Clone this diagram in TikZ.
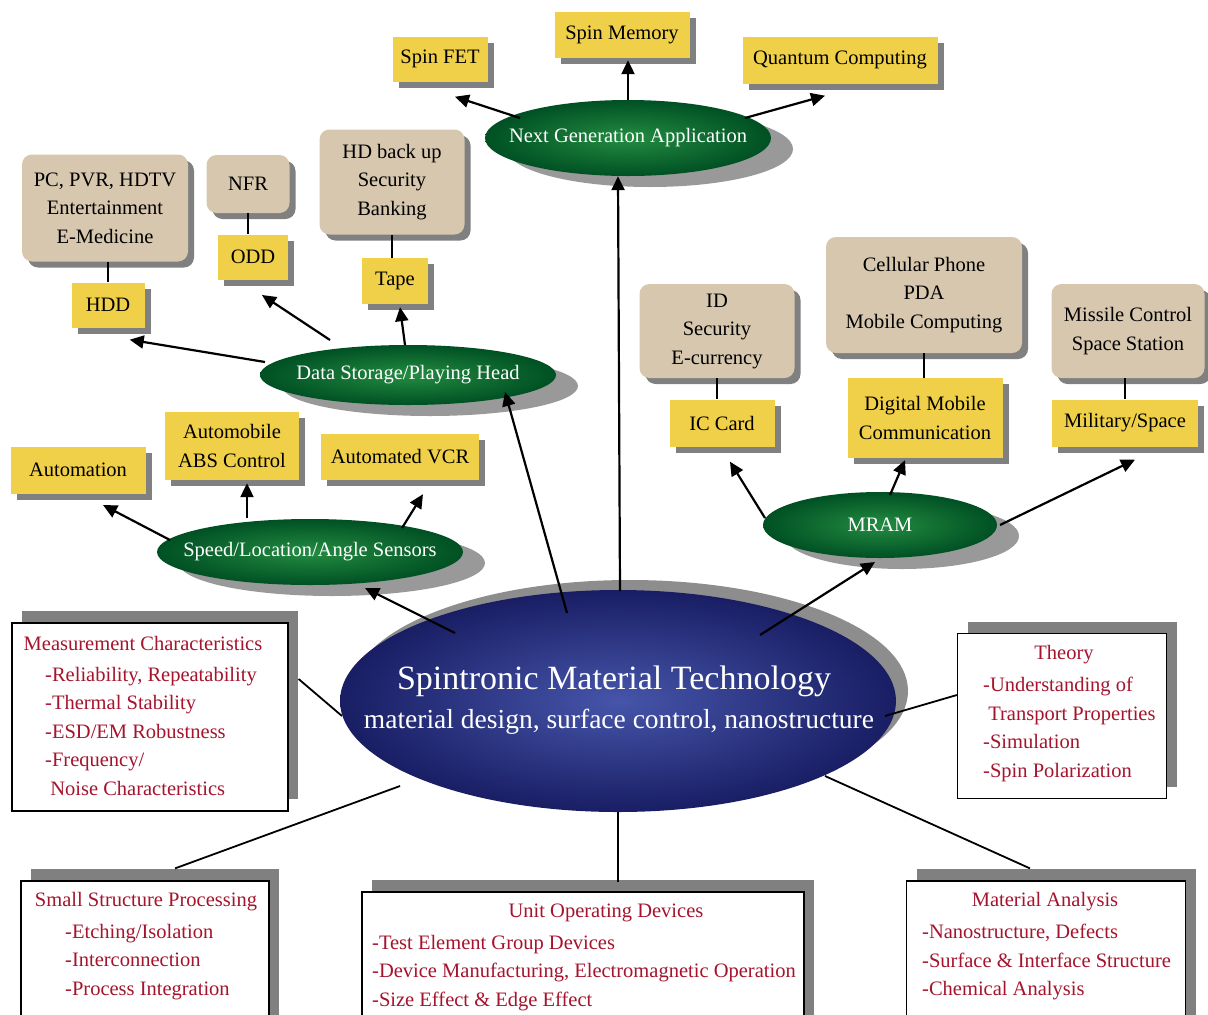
\documentclass[tikz,border=0pt]{standalone}
\usepackage{fontspec}
\setmainfont{Liberation Serif}
\usetikzlibrary{shapes.geometric,shadows,arrows.meta,calc}
\definecolor{yellow1}{RGB}{240,208,72}
\definecolor{tan1}{RGB}{214,199,174}
\definecolor{red1}{RGB}{165,20,45}
\definecolor{green1}{RGB}{35,140,65}
\definecolor{green2}{RGB}{0,80,35}
\definecolor{blue1}{RGB}{70,85,170}
\definecolor{blue2}{RGB}{25,30,100}
\definecolor{gray1}{RGB}{128,128,128}
\newcommand{\lblfont}{\fontsize{20.5}{28.5}\selectfont}
\tikzset{
  appbox/.style={rectangle,fill=yellow1,inner sep=0pt,align=center,font=\lblfont,
    drop shadow={shadow xshift=6pt,shadow yshift=-6pt,fill=gray1,opacity=1}},
  usebox/.style={rectangle,rounded corners=10pt,fill=tan1,inner sep=0pt,align=center,font=\lblfont,
    drop shadow={shadow xshift=6pt,shadow yshift=-6pt,fill=gray1,opacity=1}},
  fieldell/.style={ellipse,inner xsep=-40pt,inner ysep=-15pt,inner color=green1,outer color=green2,text=white,font=\lblfont,
    drop shadow={shadow xshift=22pt,shadow yshift=-11pt,fill=gray1!80,opacity=1}},
  infobox/.style={rectangle,draw=black,line width=1.2pt,fill=white,
    drop shadow={shadow xshift=10pt,shadow yshift=12pt,fill=gray1,opacity=1}},
  infotitle/.style={text=red1,font=\lblfont,inner sep=0pt},
  infolist/.style={text=red1,font=\lblfont,align=left,inner sep=0pt,anchor=north west},
  arr/.style={line width=2.2pt,-{Triangle[length=14pt,width=13pt]}},
  link/.style={line width=1.8pt}
}
\begin{document}
\begin{tikzpicture}[x=1pt,y=-1pt]
\useasboundingbox (0,0) rectangle (1208,1015);
\clip (0,0) rectangle (1208,1015);
%
% core
\node[ellipse,inner sep=0pt,minimum width=556pt,minimum height=222pt,inner color=blue1,outer color=blue2,
  drop shadow={shadow xshift=12pt,shadow yshift=10pt,fill=gray1!90,opacity=1}] (core) at (618,701) {};
\node[text=white,inner sep=0pt,font=\fontsize{34}{40}\selectfont] (coret1) at (614,681) {Spintronic Material Technology};
\node[text=white,inner sep=0pt,font=\fontsize{27.5}{30}\selectfont] (coret2) at (619,722) {material design, surface control, nanostructure};
%
% next generation
\node[fieldell,minimum width=286pt,minimum height=76pt] (nga) at (628,138) {Next Generation Application};
\node[appbox,minimum width=95pt,minimum height=45pt] (fet) at (440,59) {Spin FET};
\node[appbox,minimum width=135pt,minimum height=46pt] (smem) at (622,35) {Spin Memory};
\node[appbox,minimum width=195pt,minimum height=47pt] (qc) at (840,60) {Quantum Computing};
%
% data storage
\node[fieldell,minimum width=296pt,minimum height=60pt] (dsh) at (408,375) {Data Storage/Playing Head};
\node[usebox,minimum width=166pt,minimum height=107pt] (pc) at (105,208) {PC, PVR, HDTV\\Entertainment\\E-Medicine};
\node[usebox,minimum width=83pt,minimum height=58pt] (nfr) at (248,184) {NFR};
\node[usebox,minimum width=145pt,minimum height=105pt] (hdb) at (392,182) {HD back up\\Security\\Banking};
\node[appbox,minimum width=73pt,minimum height=45pt] (hdd) at (108,305) {HDD};
\node[appbox,minimum width=70pt,minimum height=45pt] (odd) at (253,257) {ODD};
\node[appbox,minimum width=66pt,minimum height=46pt] (tape) at (395,281) {Tape};
%
% sensors
\node[fieldell,minimum width=306pt,minimum height=66pt] (sens) at (310,552) {Speed/Location/Angle Sensors};
\node[appbox,minimum width=135pt,minimum height=47pt] (auto) at (78,470) {Automation};
\node[appbox,minimum width=134pt,minimum height=68pt] (abs) at (232,446) {Automobile\\ABS Control};
\node[appbox,minimum width=158pt,minimum height=46pt] (vcr) at (400,457) {Automated VCR};
%
% mram
\node[fieldell,minimum width=234pt,minimum height=66pt] (mram) at (880,525) {MRAM};
\node[usebox,minimum width=155pt,minimum height=94pt] (idb) at (717,331) {ID\\Security\\E-currency};
\node[usebox,minimum width=196pt,minimum height=116pt] (cell) at (924,295) {Cellular Phone\\PDA\\Mobile Computing};
\node[usebox,minimum width=153pt,minimum height=94pt] (mis) at (1128,331) {Missile Control\\Space Station};
\node[appbox,minimum width=105pt,minimum height=47pt] (icc) at (722,423) {IC Card};
\node[appbox,minimum width=155pt,minimum height=80pt] (dmc) at (925,418) {Digital Mobile\\Communication};
\node[appbox,minimum width=146pt,minimum height=47pt] (mil) at (1125,423) {Military/Space};
%
% tan to yellow
\draw[link,line width=1.5pt] (pc.south -| hdd) -- (hdd.north);
\draw[link,line width=1.5pt] (nfr.south) -- (nfr.south |- odd.north);
\draw[link,line width=1.5pt] (hdb.south) -- (hdb.south |- tape.north);
\draw[link,line width=1.5pt] (idb.south) -- (idb.south |- icc.north);
\draw[link,line width=1.5pt] (cell.south) -- (cell.south |- dmc.north);
\draw[link,line width=1.5pt] (mis.south -| mil) -- (mil.north);
%
% arrows
\draw[arr] ($(nga)+(-108,-20)$) -- ($(fet.south)+(15,15)$);
\draw[arr] (nga.north) -- ($(smem.south)+(6,2)$);
\draw[arr] ($(nga)+(117,-20)$) -- ($(qc.south)+(-15,12)$);
\draw[arr] ($(core)+(2,-110)$) -- (nga.south -| core);
%
\draw[arr] ($(dsh)+(-143,-13)$) -- ($(hdd.south east)+(-15,12)$);
\draw[arr] ($(dsh)+(-78,-35)$) -- ($(odd)+(9,38)$);
\draw[arr] ($(dsh)+(-3,-30)$) -- ($(tape.south)+(5,3)$);
\draw[arr] ($(core)+(-51,-88)$) -- ($(dsh)+(97,17)$);
%
\draw[arr] ($(sens)+(-140,-12)$) -- ($(auto)+(25,35)$);
\draw[arr] ($(sens)+(-63,-34)$) -- ($(abs.south)+(15,3)$);
\draw[arr] ($(sens)+(92,-24)$) -- ($(vcr.south)+(23,14)$);
\draw[arr] ($(core)+(-163,-68)$) -- ($(sens)+(55,36)$);
%
\draw[arr] ($(mram)+(-115,-7)$) -- ($(icc.south)+(8,15)$);
\draw[arr] ($(mram)+(10,-30)$) -- ($(dmc.south)+(-20,2)$);
\draw[arr] ($(mram)+(120,0)$) -- ($(mil.south)+(10,13)$);
\draw[arr] ($(core)+(142,-66)$) -- ($(mram)+(-5,37)$);
%
% info boxes
\node[infobox,minimum width=276pt,minimum height=188pt] (meas) at (150,717) {};
\node[infotitle] (meast) at (143,643) {Measurement Characteristics};
\node[infolist] (measl) at (45,667) {-Reliability, Repeatability\\-Thermal Stability\\-ESD/EM Robustness\\-Frequency/\\\ Noise Characteristics};
%
\node[infobox,minimum width=209pt,minimum height=165pt] (theo) at (1062,716) {};
\node[infotitle] (theot) at (1064,655) {Theory};
\node[infolist] (theol) at (983,677) {-Understanding of\\\ Transport Properties\\-Simulation\\-Spin Polarization};
%
\node[infobox,minimum width=248pt,minimum height=160pt] (small) at (145,961) {};
\node[infotitle] (smallt) at (146,902) {Small Structure Processing};
\node[infolist] (smalll) at (65,924) {-Etching/Isolation\\-Interconnection\\-Process Integration};
%
\node[infobox,minimum width=442pt,minimum height=150pt] (unit) at (583,967) {};
\node[infotitle] (unitt) at (606,913) {Unit Operating Devices};
\node[infolist] (unitl) at (372,935) {-Test Element Group Devices\\-Device Manufacturing, Electromagnetic Operation\\-Size Effect \& Edge Effect};
%
\node[infobox,minimum width=279pt,minimum height=160pt] (mat) at (1046,961) {};
\node[infotitle] (matt) at (1045,902) {Material Analysis};
\node[infolist] (matl) at (922,924) {-Nanostructure, Defects\\-Surface \& Interface Structure\\-Chemical Analysis};
%
% links to core
\draw[link] ($(meas.east)+(10,-38)$) -- ($(core)+(-276,15)$);
\draw[link] ($(core)+(267,15)$) -- ($(theo.west)+(0,-21)$);
\draw[link] ($(core)+(-218,85)$) -- ($(small.north)+(30,-12)$);
\draw[link] (core.south) -- ($(core.south)+(0,70)$);
\draw[link] ($(core)+(207,75)$) -- ($(mat.north)+(-16,-12)$);
\end{tikzpicture}
\end{document}
